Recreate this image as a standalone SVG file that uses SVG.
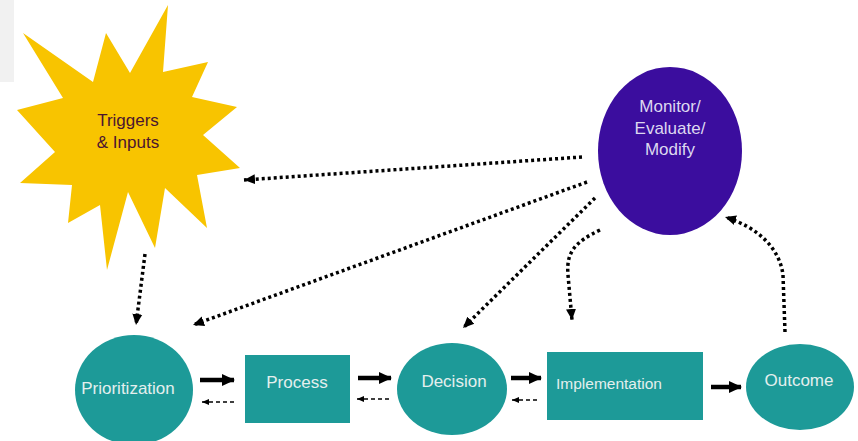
<svg xmlns="http://www.w3.org/2000/svg" width="858" height="441" viewBox="0 0 858 441">
  <style>
    .teal { fill: #1d9a98; }
    .lbl { font-family: "Liberation Sans", Arial, sans-serif; font-size: 17px; fill: #e4efee; text-anchor: middle; }
    .dark { fill: #4a1530; }
    .mon { fill: #ddd8f0; }
    .dotted { fill: none; stroke: #000; stroke-width: 3.5; stroke-dasharray: 3 3; }
    .thick { fill: none; stroke: #000; stroke-width: 4.5; }
    .dash { fill: none; stroke: #000; stroke-width: 1.5; stroke-dasharray: 4 3; }
  </style>
  <defs>
    <marker id="headSolid" markerUnits="userSpaceOnUse" markerWidth="14" markerHeight="14" viewBox="0 0 14 14" refX="12" refY="7" orient="auto">
      <path d="M0,1 L13,7 L0,13 z" fill="#000"/>
    </marker>
    <marker id="headDot" markerUnits="userSpaceOnUse" markerWidth="12" markerHeight="12" viewBox="0 0 12 12" refX="11" refY="6" orient="auto">
      <path d="M0,1 L11,6 L0,11 z" fill="#000"/>
    </marker>
    <marker id="headDash" markerUnits="userSpaceOnUse" markerWidth="8" markerHeight="8" viewBox="0 0 8 8" refX="7" refY="4" orient="auto">
      <path d="M0,1 L7,4 L0,7 z" fill="#000"/>
    </marker>
  </defs>

  <rect x="0" y="0" width="858" height="441" fill="#ffffff"/>
  <!-- pale panel at the top-left edge -->
  <rect x="0" y="0" width="14" height="82" fill="#f1f1f1"/>

  <g id="triggers">
    <polygon fill="#f8c400" points="23,33 93,82 106,33 130,73 168,5 163,72 208,62 192,97 237,107 203,135 240,168 197,175 207,228 165,188 155,248 128,192 107,270 100,205 68,223 72,185 20,183 55,152 17,110 63,98"/>
    <text class="lbl dark" x="128" y="126">Triggers</text>
    <text class="lbl dark" x="128" y="148">&amp; Inputs</text>
  </g>

  <g id="monitor">
    <ellipse cx="670" cy="151" rx="72" ry="84" fill="#3b0d9e"/>
    <text class="lbl mon" x="670" y="112">Monitor/</text>
    <text class="lbl mon" x="670" y="134">Evaluate/</text>
    <text class="lbl mon" x="670" y="155">Modify</text>
  </g>

  <g id="prioritization">
    <ellipse class="teal" cx="134" cy="390" rx="59" ry="55"/>
    <text class="lbl" x="128" y="394">Prioritization</text>
  </g>

  <g id="process">
    <rect class="teal" x="245" y="355" width="105" height="68"/>
    <text class="lbl" x="297" y="388">Process</text>
  </g>

  <g id="decision">
    <ellipse class="teal" cx="452" cy="389" rx="55" ry="46"/>
    <text class="lbl" x="454" y="387">Decision</text>
  </g>

  <g id="implementation">
    <rect class="teal" x="547" y="352" width="156" height="68"/>
    <text class="lbl" x="556" y="389" style="text-anchor:start;font-size:15.5px">Implementation</text>
  </g>

  <g id="outcome">
    <ellipse class="teal" cx="800" cy="387" rx="54" ry="43"/>
    <text class="lbl" x="799" y="386">Outcome</text>
  </g>

  <g id="connectors">
    <!-- forward flow -->
    <line class="thick" x1="200" y1="380" x2="234" y2="380" marker-end="url(#headSolid)"/>
    <line class="thick" x1="358" y1="378" x2="391" y2="378" marker-end="url(#headSolid)"/>
    <line class="thick" x1="511" y1="378" x2="541" y2="378" marker-end="url(#headSolid)"/>
    <line class="thick" x1="711" y1="387" x2="741" y2="387" marker-end="url(#headSolid)"/>
    <!-- feedback -->
    <line class="dash" x1="234" y1="402" x2="202" y2="402" marker-end="url(#headDash)"/>
    <line class="dash" x1="389" y1="399" x2="357" y2="399" marker-end="url(#headDash)"/>
    <line class="dash" x1="537" y1="400" x2="512" y2="400" marker-end="url(#headDash)"/>
    <!-- monitoring loops -->
    <line class="dotted" x1="582" y1="157" x2="244" y2="180" marker-end="url(#headDot)"/>
    <line class="dotted" x1="587" y1="182" x2="193" y2="325" marker-end="url(#headDot)"/>
    <line class="dotted" x1="595" y1="198" x2="463" y2="328" marker-end="url(#headDot)"/>
    <path class="dotted" d="M600,230 C575,242 566,252 568,275 L572,320" marker-end="url(#headDot)"/>
    <path class="dotted" d="M785,332 L783,275 C780,250 760,228 725,217" marker-end="url(#headDot)"/>
    <line class="dotted" x1="145" y1="254" x2="136" y2="325" marker-end="url(#headDot)"/>
  </g>
</svg>
